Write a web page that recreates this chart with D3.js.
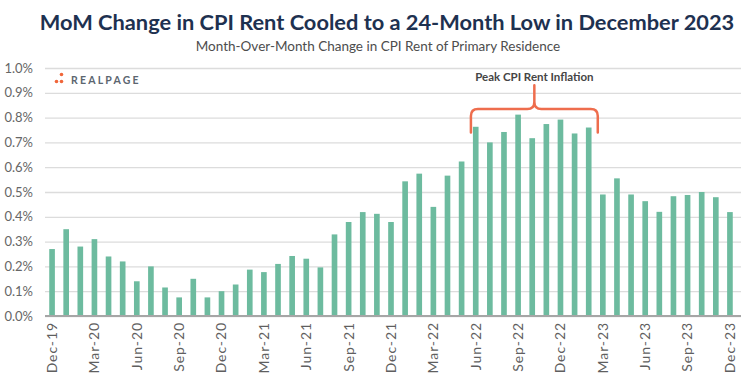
<!DOCTYPE html>
<html>
<head>
<meta charset="utf-8">
<script src="https://cdn.jsdelivr.net/npm/d3@7"></script>
<style>
   body { margin: 0; background: #ffffff; }
   #chartDiv { width: 749px; height: 387px; }
</style>
</head>
<body>
<div id="chartDiv"></div>
<script>
//----------------------------------------------------------------------------------------------------
var months = ["Dec-19",
              "Jan-20","Feb-20","Mar-20","Apr-20","May-20","Jun-20","Jul-20","Aug-20","Sep-20","Oct-20","Nov-20","Dec-20",
              "Jan-21","Feb-21","Mar-21","Apr-21","May-21","Jun-21","Jul-21","Aug-21","Sep-21","Oct-21","Nov-21","Dec-21",
              "Jan-22","Feb-22","Mar-22","Apr-22","May-22","Jun-22","Jul-22","Aug-22","Sep-22","Oct-22","Nov-22","Dec-22",
              "Jan-23","Feb-23","Mar-23","Apr-23","May-23","Jun-23","Jul-23","Aug-23","Sep-23","Oct-23","Nov-23","Dec-23"];

   // month-over-month change, percent
var rentMoM = [0.27,
               0.35, 0.28, 0.31, 0.24, 0.22, 0.14, 0.20, 0.115, 0.075, 0.15, 0.075, 0.10,
               0.127, 0.187, 0.177, 0.21, 0.242, 0.231, 0.196, 0.329, 0.379, 0.419, 0.412, 0.379,
               0.543, 0.574, 0.44, 0.566, 0.623, 0.763, 0.70, 0.742, 0.812, 0.717, 0.774, 0.792,
               0.736, 0.76, 0.49, 0.555, 0.49, 0.463, 0.42, 0.483, 0.488, 0.50, 0.479, 0.419];

var xTickLabels = ["Dec-19","Mar-20","Jun-20","Sep-20","Dec-20","Mar-21","Jun-21","Sep-21","Dec-21",
                   "Mar-22","Jun-22","Sep-22","Dec-22","Mar-23","Jun-23","Sep-23","Dec-23"];

var yTicks = [0.0, 0.1, 0.2, 0.3, 0.4, 0.5, 0.6, 0.7, 0.8, 0.9, 1.0];

var peakStart = "Jun-22";
var peakEnd   = "Feb-23";
var peakLabel = "Peak CPI Rent Inflation";

var chartTitle = "MoM Change in CPI Rent Cooled to a 24-Month Low in December 2023";
var chartSubtitle = "Month-Over-Month Change in CPI Rent of Primary Residence";

var width = 749;
var height = 387;
var barColor = "#6dbb9f";
var bracketColor = "#ee6d4d";
//----------------------------------------------------------------------------------------------------
function drawChart()
{
   var svg = d3.select("#chartDiv")
      .append("svg")
      .attr("width", width)
      .attr("height", height)
      .style("font-family", "Lato, 'Open Sans', sans-serif");

   var xScale = d3.scaleBand()
                  .domain(months)
                  .range([45, 737])
                  .paddingInner(0.6)
                  .paddingOuter(0.3);

   var yScale = d3.scaleLinear()
                  .domain([0, 1.0])
                  .range([316, 68]);   // note inversion

   svg.append("text")
      .attr("x", 387)
      .attr("y", 30)
      .attr("text-anchor", "middle")
      .style("font-size", "21.8px")
      .style("font-weight", "bold")
      .style("fill", "#1e3150")
      .text(chartTitle);

   svg.append("text")
      .attr("x", 378)
      .attr("y", 51)
      .attr("text-anchor", "middle")
      .style("font-size", "13.5px")
      .style("fill", "#4d4d4d")
      .text(chartSubtitle);

      // horizontal gridlines, no axis line on the left
   var yAxis = d3.axisLeft(yScale)
                 .tickValues(yTicks)
                 .tickSize(-(741 - 45))
                 .tickPadding(12)
                 .tickFormat(function(d){ return d.toFixed(1) + "%"; });

   var yAxisG = svg.append("g")
      .attr("transform", "translate(45,0)")
      .call(yAxis);

   yAxisG.select(".domain").remove();
   yAxisG.selectAll(".tick line")
      .attr("stroke", "#dcdcdc")
      .attr("stroke-width", 1.3);
   yAxisG.selectAll(".tick text")
      .attr("x", -12)
      .style("font-size", "13px")
      .style("font-family", "Lato, sans-serif")
      .style("fill", "#666666");

   svg.selectAll("rect.bar")
      .data(rentMoM)
      .enter()
      .append("rect")
      .attr("class", "bar")
      .attr("x", function(d, i){ return xScale(months[i]); })
      .attr("width", xScale.bandwidth())
      .attr("y", function(d){ return yScale(d); })
      .attr("height", function(d){ return yScale(0) - yScale(d); })
      .style("fill", barColor);

   var xAxis = d3.axisBottom(xScale)
                 .tickValues(xTickLabels)
                 .tickSize(0)
                 .tickPadding(6);

   var xAxisG = svg.append("g")
      .attr("transform", "translate(0," + yScale(0) + ")")
      .call(xAxis);

   xAxisG.select(".domain")
      .attr("d", "M45,0H741")
      .attr("stroke", "#a6a6a6")
      .attr("stroke-width", 2);

   xAxisG.selectAll(".tick text")
      .attr("transform", "rotate(-90)")
      .attr("x", -6)
      .attr("y", 0)
      .attr("dy", "0.35em")
      .attr("text-anchor", "end")
      .style("font-size", "14px")
      .style("letter-spacing", "0.9px")
      .style("font-family", "Lato, sans-serif")
      .style("fill", "#5f5f5f");

   drawLogo(svg);
   drawPeakBracket(svg, xScale, yScale);

} // drawChart
//----------------------------------------------------------------------------------------------------
function drawLogo(svg)
{
   var logo = svg.append("g");

   var dots = [[56.5, 81.5], [61.5, 74.5], [61.5, 81.5]];
   logo.selectAll("circle")
      .data(dots)
      .enter()
      .append("circle")
      .attr("cx", function(d){ return d[0]; })
      .attr("cy", function(d){ return d[1]; })
      .attr("r", 1.8)
      .style("fill", "#f0663a");

   logo.append("text")
      .attr("x", 71)
      .attr("y", 83.5)
      .style("font-size", "10.5px")
      .style("font-weight", "bold")
      .style("letter-spacing", "2.2px")
      .style("fill", "#5c6670")
      .text("REALPAGE");

} // drawLogo
//----------------------------------------------------------------------------------------------------
function drawPeakBracket(svg, xScale, yScale)
{
   var step = xScale.step();
   var x0 = xScale(peakStart) - 2;
   var x1 = xScale(peakEnd) + xScale.bandwidth() + step * 0.3 + 2;
   var xm = (x0 + x1) / 2;

   var yEnd = yScale(0.74);
   var yBar = yScale(0.835);
   var yTip = yScale(0.93);
   var r = 7;

   var p = d3.path();
   p.moveTo(x0, yEnd);
   p.lineTo(x0, yBar + r);
   p.quadraticCurveTo(x0, yBar, x0 + r, yBar);
   p.lineTo(xm - r, yBar);
   p.quadraticCurveTo(xm, yBar, xm, yBar - r);
   p.lineTo(xm, yTip);
   p.moveTo(xm, yBar - r);
   p.quadraticCurveTo(xm, yBar, xm + r, yBar);
   p.lineTo(x1 - r, yBar);
   p.quadraticCurveTo(x1, yBar, x1, yBar + r);
   p.lineTo(x1, yEnd);

   svg.append("path")
      .attr("d", p.toString())
      .attr("fill", "none")
      .attr("stroke", bracketColor)
      .attr("stroke-width", 2.5)
      .attr("stroke-linecap", "round");

   svg.append("text")
      .attr("x", xm)
      .attr("y", yTip - 4)
      .attr("text-anchor", "middle")
      .style("font-size", "11.5px")
      .style("font-weight", "bold")
      .style("fill", "#454545")
      .text(peakLabel);

} // drawPeakBracket
//----------------------------------------------------------------------------------------------------
drawChart();
</script>
</body>
</html>
